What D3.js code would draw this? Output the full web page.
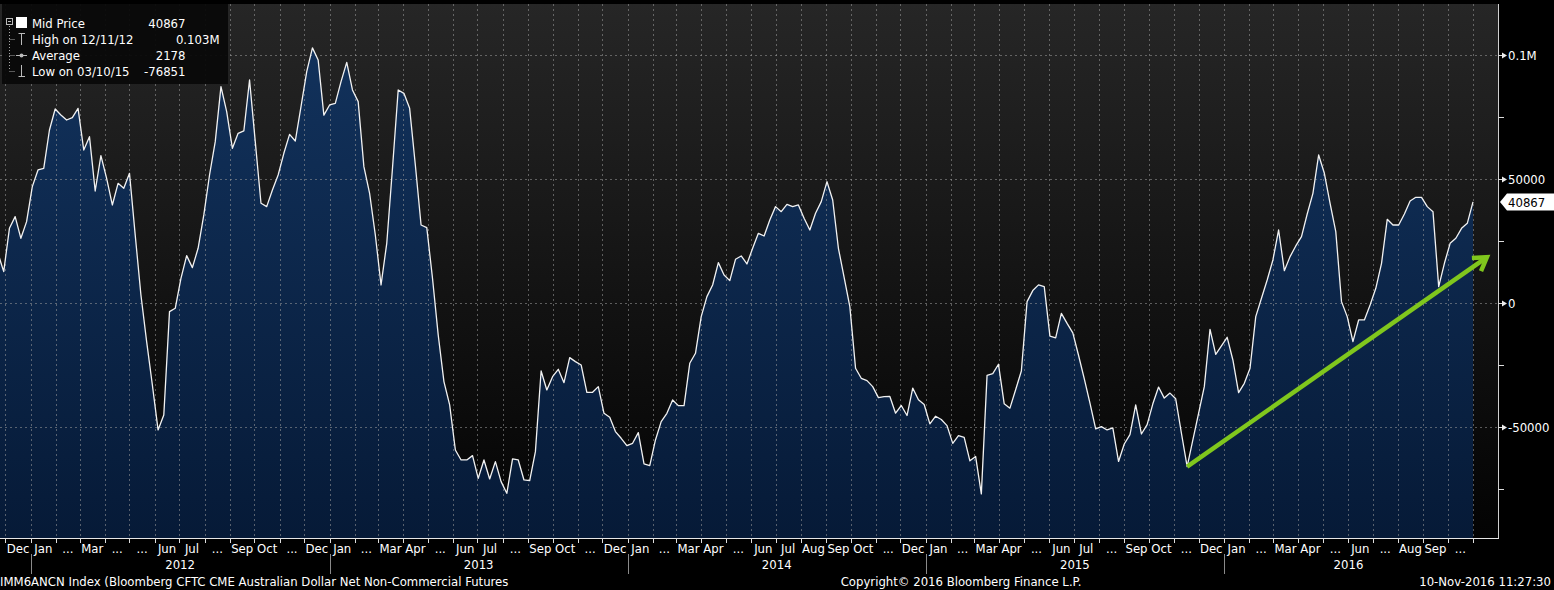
<!DOCTYPE html>
<html><head><meta charset="utf-8">
<script src="https://cdn.jsdelivr.net/npm/d3@7"></script>
<style>
html,body{margin:0;padding:0;background:#000;overflow:hidden;}
svg text{font-family:"DejaVu Sans Condensed","DejaVu Sans",sans-serif;font-stretch:condensed;fill:#fff;font-size:12px;}
</style></head><body><svg id="c" width="1554" height="590"></svg>
<script>
// ---------- data ----------
const startDate = "2011-11-22";   // first weekly observation (Tuesday)
const values = [
 20160,12770,30240,34940,26210,32930,47040,53760,54430,69890,
 78350,75940,73920,74860,78620,61820,67200,45290,59540,50400,
 39650,48380,46370,52420,27550,3360,-15460,-32930,-51070,-45020,
 -3360,-2020,10080,19220,14380,22180,35620,51740,65180,87360,
 77280,62500,68540,69490,90050,65180,40320,38980,45700,51740,
 60480,68140,65450,79300,93400,103000,98100,75900,79970,80640,
 89380,97170,86020,81310,55100,44350,27550,7390,24190,54430,
 86020,84670,78620,55780,31580,30510,10080,-12770,-31580,-40990,
 -59140,-63170,-63170,-61420,-70560,-63170,-70830,-63840,-71900,-76610,
 -62760,-63170,-71230,-71500,-59810,-27280,-34940,-29570,-26610,-31990,
 -21910,-23520,-24860,-35880,-35880,-33600,-44350,-45960,-51740,-54430,
 -57390,-56450,-52150,-64780,-65450,-55100,-47710,-44350,-38980,-41260,
 -41260,-24190,-20160,-5380,2690,7390,16400,11420,9140,17740,
 19080,15860,22180,28220,27150,33600,38980,36960,39920,38980,
 39650,34270,29570,36290,40990,49060,41660,22180,10480,-1340,
 -26210,-30240,-31180,-33600,-38040,-37630,-37560,-44310,-41210,-45260,
 -34180,-38910,-40800,-48640,-45530,-46880,-49310,-56470,-53360,-54040,
 -63500,-61740,-76851,-29050,-28370,-24590,-40530,-42290,-34860,-27290,
 680,5130,7430,6760,-13240,-13920,-4050,-8110,-11890,-20940,
 -30400,-40260,-50660,-49720,-51070,-50260,-63770,-56740,-52960,-40940,
 -52690,-48910,-40530,-33780,-38230,-36210,-38500,-52400,-65860,-55100,
 -44350,-33600,-10480,-20560,-17200,-13710,-22850,-36020,-32260,-26210,
 -5380,2020,9410,17470,29570,13170,18820,23120,26880,36020,
 44350,59810,52420,40320,28900,670,-5380,-15460,-6720,-6720,
 -670,6050,16130,33870,31580,31580,36020,41260,42740,42740,
 38980,36960,6720,16130,24190,26210,30240,32260,40867
];
const yTicks = [-50000, 0, 50000, 100000];
const yTickLabels = ["-50000", "0", "50000", "0.1M"];
const yMinorTicks = [-75000, -25000, 25000, 75000];
const monthLabels = [
 "Dec",
 "Jan","...","Mar","...","...","Jun","Jul","...","Sep","Oct","...","Dec",
 "Jan","...","Mar","Apr","...","Jun","Jul","...","Sep","Oct","...","Dec",
 "Jan","...","Mar","Apr","...","Jun","Jul","Aug","Sep","Oct","...","Dec",
 "Jan","...","Mar","Apr","...","Jun","Jul","...","Sep","Oct","...","Dec",
 "Jan","...","Mar","Apr","...","Jun","...","Aug","Sep","..."
];
const yearLabels = ["2012", "2013", "2014", "2015", "2016"];
const legendLabels = ["Mid Price", "High on 12/11/12", "Average", "Low on 03/10/15"];
const legendValues = ["40867", "0.103M", "2178", "-76851"];
const lastValueLabel = "40867";
const trendArrow = [["2015-11-17", -65860], ["2016-11-18", 18550]];
const footerLeft = "IMM6ANCN Index (Bloomberg CFTC CME Australian Dollar Net Non-Commercial Futures";
const footerMid = "Copyright\u00A9 2016 Bloomberg Finance L.P.";
const footerRight = "10-Nov-2016 11:27:30";

// ---------- layout ----------
const W = 1554, H = 590;
const plot = {left: 0, right: 1498, top: 4, bottom: 538};
const parse = d3.utcParse("%Y-%m-%d");
const t0 = parse(startDate);
const series = values.map((v, i) => ({date: d3.utcDay.offset(t0, 7 * i), value: v}));
const tLast = series[series.length - 1].date;

const x = d3.scaleUtc().domain([t0, tLast]).range([-2, 1473]);
const y = d3.scaleLinear().domain([-50000, 100000]).range([427.3, 55.3]);

const svg = d3.select("#c");
const defs = svg.append("defs");
const bg = defs.append("linearGradient").attr("id", "bg").attr("x1", 0).attr("x2", 0).attr("y1", 0).attr("y2", 1);
bg.append("stop").attr("offset", "0%").attr("stop-color", "#262626");
bg.append("stop").attr("offset", "100%").attr("stop-color", "#030303");
const ag = defs.append("linearGradient").attr("id", "ag").attr("gradientUnits", "userSpaceOnUse")
  .attr("x1", 0).attr("x2", 0).attr("y1", 40).attr("y2", plot.bottom);
ag.append("stop").attr("offset", "0%").attr("stop-color", "#12325c");
ag.append("stop").attr("offset", "100%").attr("stop-color", "#061a37");
defs.append("clipPath").attr("id", "clip").append("rect")
  .attr("x", plot.left).attr("y", plot.top).attr("width", plot.right - plot.left).attr("height", plot.bottom - plot.top);

svg.append("rect").attr("width", W).attr("height", H).attr("fill", "#000");
svg.append("rect").attr("x", plot.left).attr("y", plot.top)
  .attr("width", plot.right - plot.left).attr("height", plot.bottom - plot.top).attr("fill", "url(#bg)");

const g = svg.append("g").attr("clip-path", "url(#clip)");

// area
const area = d3.area().x(d => x(d.date)).y0(plot.bottom).y1(d => y(d.value));
g.append("path").datum(series).attr("d", area).attr("fill", "url(#ag)");

// grid (month boundaries from Dec 2011 to Nov 2016)
const months = d3.utcMonth.range(d3.utcMonth.ceil(t0), d3.utcMonth.offset(d3.utcMonth.floor(tLast), 1));
g.selectAll("line.vg").data(months).join("line").attr("class", "vg")
  .attr("x1", d => Math.round(x(d)) + 0.5).attr("x2", d => Math.round(x(d)) + 0.5)
  .attr("y1", plot.top).attr("y2", plot.bottom)
  .attr("stroke", "#9a9a9a").attr("stroke-opacity", 0.55).attr("stroke-dasharray", "2,3");
g.selectAll("line.hg").data(yTicks).join("line").attr("class", "hg")
  .attr("x1", plot.left).attr("x2", plot.right)
  .attr("y1", d => Math.round(y(d)) + 0.5).attr("y2", d => Math.round(y(d)) + 0.5)
  .attr("stroke", "#9a9a9a").attr("stroke-opacity", 0.55).attr("stroke-dasharray", "2,3");

// line
const line = d3.line().x(d => x(d.date)).y(d => y(d.value));
g.append("path").datum(series).attr("d", line).attr("fill", "none")
  .attr("stroke", "#f2f2f2").attr("stroke-width", 1.3).attr("stroke-linejoin", "round");

// frame
svg.append("line").attr("x1", plot.right + 0.5).attr("x2", plot.right + 0.5)
  .attr("y1", plot.top).attr("y2", plot.bottom).attr("stroke", "#d0d0d0");
svg.append("line").attr("x1", plot.left).attr("x2", plot.right + 1)
  .attr("y1", plot.bottom + 0.5).attr("y2", plot.bottom + 0.5).attr("stroke", "#e6e6e6");

// right axis
const ra = svg.append("g");
ra.selectAll("line.mt").data(yMinorTicks).join("line").attr("class", "mt")
  .attr("x1", plot.right).attr("x2", plot.right + 6)
  .attr("y1", d => Math.round(y(d)) + 0.5).attr("y2", d => Math.round(y(d)) + 0.5).attr("stroke", "#ddd");
ra.selectAll("line.Mt").data(yTicks).join("line").attr("class", "Mt")
  .attr("x1", plot.right).attr("x2", plot.right + 5)
  .attr("y1", d => Math.round(y(d)) + 0.5).attr("y2", d => Math.round(y(d)) + 0.5).attr("stroke", "#ddd");
ra.selectAll("path.tri").data(yTicks).join("path").attr("class", "tri")
  .attr("d", d => { const yy = Math.round(y(d)) + 0.5, x0 = plot.right + 4; return `M${x0},${yy - 3}L${x0 + 5},${yy}L${x0},${yy + 3}Z`; })
  .attr("fill", "#eee");
ra.selectAll("text").data(yTicks).join("text")
  .attr("x", plot.right + 10).attr("y", d => y(d)).attr("dy", "0.36em")
  .style("font-size", "13px").text((d, i) => yTickLabels[i]);

// last value tag
const lv = y(values[values.length - 1]);
svg.append("path").attr("d", `M${plot.right + 2},${lv}L${plot.right + 9},${lv - 8.5}L${W},${lv - 8.5}L${W},${lv + 8.5}L${plot.right + 9},${lv + 8.5}Z`)
  .attr("fill", "#fff");
svg.append("text").attr("x", plot.right + 10).attr("y", lv).attr("dy", "0.36em")
  .style("fill", "#000").style("font-size", "13px").text(lastValueLabel);

// x axis
const xa = svg.append("g");
xa.selectAll("line").data(months).join("line")
  .attr("x1", d => Math.round(x(d)) + 0.5).attr("x2", d => Math.round(x(d)) + 0.5)
  .attr("y1", plot.bottom).attr("y2", plot.bottom + 5).attr("stroke", "#ddd");
xa.selectAll("text").data(months.slice(0, monthLabels.length)).join("text")
  .attr("x", d => (x(d) + x(d3.utcMonth.offset(d, 1))) / 2)
  .attr("y", 548.5).attr("dy", "0.36em").attr("text-anchor", "middle")
  .style("font-size", "13px").text((d, i) => monthLabels[i]);
const years = d3.utcYear.range(d3.utcYear.ceil(t0), d3.utcYear.offset(d3.utcYear.floor(tLast), 1));
svg.selectAll("line.ys").data(years).join("line").attr("class", "ys")
  .attr("x1", d => Math.round(x(d)) + 0.5).attr("x2", d => Math.round(x(d)) + 0.5)
  .attr("y1", 554).attr("y2", 574).attr("stroke", "#8a8a8a");
svg.selectAll("text.yl").data(years).join("text").attr("class", "yl")
  .attr("x", d => (x(d) + Math.min(x(d3.utcYear.offset(d, 1)), x(tLast))) / 2)
  .attr("y", 564).attr("dy", "0.36em").attr("text-anchor", "middle")
  .style("font-size", "13px").text((d, i) => yearLabels[i]);

// trend arrow
const a0 = [x(parse(trendArrow[0][0])), y(trendArrow[0][1])];
const a1 = [x(parse(trendArrow[1][0])), y(trendArrow[1][1])];
const ang = Math.atan2(a0[1] - a1[1], a0[0] - a1[0]);
const L = 15, spread = 0.56;
const h1 = [a1[0] + L * Math.cos(ang + spread), a1[1] + L * Math.sin(ang + spread)];
const h2 = [a1[0] + L * Math.cos(ang - spread), a1[1] + L * Math.sin(ang - spread)];
svg.append("line").attr("x1", a0[0]).attr("y1", a0[1]).attr("x2", a1[0] - 2).attr("y2", a1[1] + 1.4)
  .attr("stroke", "#80c71d").attr("stroke-width", 4.5);
svg.append("path").attr("d", `M${h1[0]},${h1[1]}L${a1[0]},${a1[1]}L${h2[0]},${h2[1]}`)
  .attr("fill", "none").attr("stroke", "#80c71d").attr("stroke-width", 4.5).attr("stroke-linejoin", "miter");

// legend
const lg = svg.append("g");
lg.append("rect").attr("x", 2).attr("y", 4).attr("width", 226).attr("height", 80)
  .attr("fill", "#090909").attr("fill-opacity", 0.94);
const rowY = [23, 39, 55, 71];
lg.append("line").attr("x1", 9.5).attr("x2", 9.5).attr("y1", 26).attr("y2", 71)
  .attr("stroke", "#aaa").attr("stroke-dasharray", "1,2");
rowY.slice(1).forEach(r => lg.append("line").attr("x1", 9.5).attr("x2", 15).attr("y1", r + 0.5).attr("y2", r + 0.5)
  .attr("stroke", "#aaa").attr("stroke-dasharray", "1,1"));
lg.append("rect").attr("x", 6.5).attr("y", 18.5).attr("width", 6).attr("height", 6).attr("fill", "#090909").attr("stroke", "#bbb");
lg.append("line").attr("x1", 8).attr("x2", 11).attr("y1", 21.5).attr("y2", 21.5).attr("stroke", "#bbb");
lg.append("rect").attr("x", 16).attr("y", 17).attr("width", 11).attr("height", 11).attr("fill", "#fff");
lg.append("path").attr("d", "M18.5,33.5H25M21.5,33.5V45").attr("stroke", "#bbb").attr("fill", "none");
lg.append("path").attr("d", "M16,55.5H27").attr("stroke", "#bbb");
lg.append("circle").attr("cx", 21.5).attr("cy", 55.5).attr("r", 2).attr("fill", "#bbb");
lg.append("path").attr("d", "M21.5,65V76.5M18.5,76.5H25").attr("stroke", "#bbb").attr("fill", "none");
lg.selectAll("text.ll").data(legendLabels).join("text").attr("class", "ll")
  .attr("x", 32).attr("y", (d, i) => rowY[i]).attr("dy", "0.36em").style("font-size", "13px").text(d => d);
const valX = [185.5, 219.5, 185.5, 185.5];
lg.selectAll("text.lv").data(legendValues).join("text").attr("class", "lv")
  .attr("x", (d, i) => valX[i]).attr("y", (d, i) => rowY[i]).attr("dy", "0.36em")
  .attr("text-anchor", "end").style("font-size", "13px").text(d => d);

// footer
svg.append("text").attr("x", 0).attr("y", 581).attr("dy", "0.36em").style("font-size", "13px").text(footerLeft);
svg.append("text").attr("x", 961).attr("y", 581).attr("dy", "0.36em").attr("text-anchor", "middle").style("font-size", "13px").text(footerMid);
svg.append("text").attr("x", 1551).attr("y", 581).attr("dy", "0.36em").attr("text-anchor", "end").style("font-size", "13px").text(footerRight);
</script></body></html>
